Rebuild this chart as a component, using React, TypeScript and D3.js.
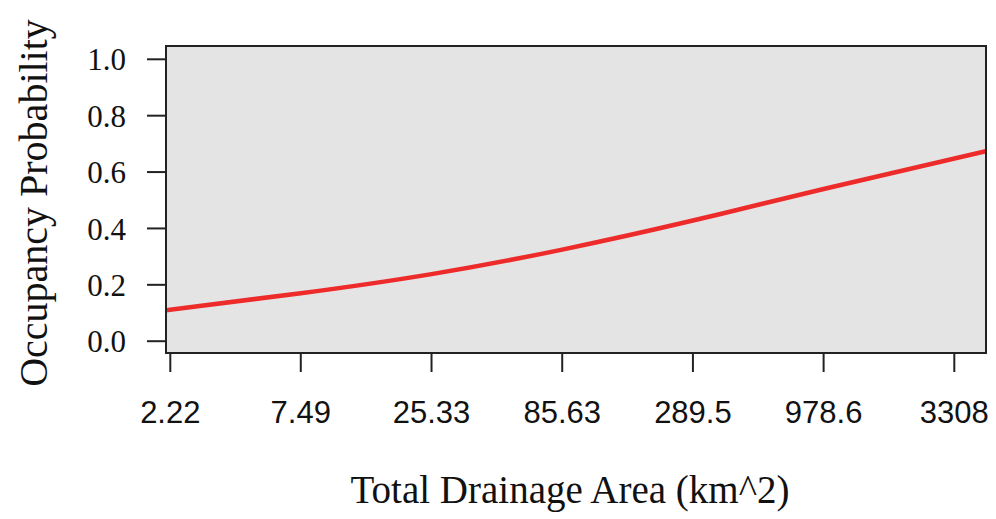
import React from "react";
import * as d3 from "d3";

// drainage area (km^2) at which the fitted curve was read, and occupancy probability
const areas = [2.13, 7.49, 25.33, 85.63, 289.5, 978.6, 4434];
const probs = [0.11, 0.17, 0.238, 0.325, 0.428, 0.54, 0.674];

const xTicks = [2.22, 7.49, 25.33, 85.63, 289.5, 978.6, 3308];
const xTickLabels = ["2.22", "7.49", "25.33", "85.63", "289.5", "978.6", "3308"];
const yTicks = [0, 0.2, 0.4, 0.6, 0.8, 1.0];

const W = 996;
const H = 519;
const plot = { left: 166, right: 986, top: 46, bottom: 353 };

const App = () => {
  const x = d3.scaleLog().domain([2.22, 3308]).range([170.3, 954.3]);
  const y = d3.scaleLinear().domain([0, 1]).range([341.2, 59.3]);

  const line = d3
    .line<number>()
    .x((d, i) => x(areas[i]))
    .y((d) => y(d))
    .curve(d3.curveNatural);

  const serif = "'Liberation Serif', 'Times New Roman', serif";
  const sans = "'Liberation Sans', Arial, sans-serif";

  return (
    <svg
      width={W}
      height={H}
      style={{ position: "absolute", left: 0, top: 0, background: "#fff" }}
    >
      <defs>
        <clipPath id="plotclip">
          <rect x={plot.left} y={plot.top} width={plot.right - plot.left} height={plot.bottom - plot.top} />
        </clipPath>
      </defs>
      <rect
        x={plot.left}
        y={plot.top}
        width={plot.right - plot.left}
        height={plot.bottom - plot.top}
        fill="#e4e4e4"
      />
      <path
        d={line(probs) || ""}
        fill="none"
        stroke="#ee2b2b"
        strokeWidth={4.5}
        clipPath="url(#plotclip)"
      />
      <rect
        x={plot.left}
        y={plot.top}
        width={plot.right - plot.left}
        height={plot.bottom - plot.top}
        fill="none"
        stroke="#222"
        strokeWidth={2}
      />

      {/* y axis */}
      {yTicks.map((t) => (
        <g key={t}>
          <line x1={plot.left - 19} x2={plot.left} y1={y(t)} y2={y(t)} stroke="#222" strokeWidth={2} />
          <text
            x={126}
            y={y(t)}
            dy="0.36em"
            textAnchor="end"
            fontFamily={serif}
            fontSize={31}
            fill="#111"
          >
            {t.toFixed(1)}
          </text>
        </g>
      ))}

      {/* x axis */}
      {xTicks.map((t, i) => (
        <g key={t}>
          <line x1={x(t)} x2={x(t)} y1={plot.bottom} y2={plot.bottom + 19} stroke="#222" strokeWidth={2} />
          <text
            x={x(t)}
            y={423}
            textAnchor="middle"
            fontFamily={sans}
            fontSize={31}
            fill="#111"
          >
            {xTickLabels[i]}
          </text>
        </g>
      ))}

      <text
        x={570}
        y={503}
        textAnchor="middle"
        fontFamily={serif}
        fontSize={39}
        fill="#111"
      >
        Total Drainage Area (km^2)
      </text>
      <text
        transform="translate(47,203) rotate(-90)"
        textAnchor="middle"
        fontFamily={serif}
        fontSize={40}
        fill="#111"
      >
        Occupancy Probability
      </text>
    </svg>
  );
};

export default App;
